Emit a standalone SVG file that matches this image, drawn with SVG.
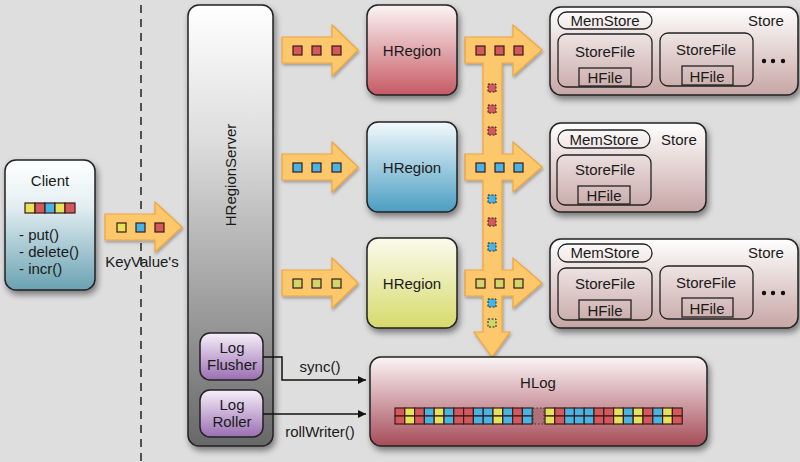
<svg xmlns="http://www.w3.org/2000/svg" width="800" height="462" viewBox="0 0 800 462">
<defs>
<style>
text{font-family:"Liberation Sans",Arial,sans-serif;font-size:15px;fill:#1a1a1a}
.c{text-anchor:middle}
.box{stroke:#222;stroke-width:1.5}
.arr{fill:#fdc86c;stroke:#f0a43c;stroke-width:1.2}
.sq{stroke:#3a1a1a;stroke-width:1.2}
.dsq{stroke:#222;stroke-width:1;stroke-dasharray:2,1.5}
.r{fill:#d4585c}.b{fill:#47b4e6}.y{fill:#e6e25a}.g{fill:#d2d66a}
.in{fill:none;stroke:#222;stroke-width:1.3}
.conn{fill:none;stroke:#111;stroke-width:1.5}
</style>
<filter id="sh" x="-20%" y="-20%" width="140%" height="140%"><feDropShadow dx="2" dy="4" stdDeviation="3" flood-color="#000" flood-opacity="0.45"/></filter>
<filter id="sh2" x="-20%" y="-20%" width="140%" height="140%"><feDropShadow dx="1" dy="2" stdDeviation="1.5" flood-color="#000" flood-opacity="0.3"/></filter>
<linearGradient id="gClient" x1="0" y1="0" x2="0" y2="1"><stop offset="0" stop-color="#ffffff"/><stop offset="0.35" stop-color="#e4eff2"/><stop offset="1" stop-color="#6aa2b2"/></linearGradient>
<linearGradient id="gServer" x1="0" y1="0" x2="0" y2="1"><stop offset="0" stop-color="#ffffff"/><stop offset="0.3" stop-color="#dedede"/><stop offset="1" stop-color="#686868"/></linearGradient>
<linearGradient id="gRed" x1="0" y1="0" x2="0" y2="1"><stop offset="0" stop-color="#fcf4f4"/><stop offset="1" stop-color="#c65a64"/></linearGradient>
<linearGradient id="gBlue" x1="0" y1="0" x2="0" y2="1"><stop offset="0" stop-color="#f2f9fc"/><stop offset="1" stop-color="#4b9ec2"/></linearGradient>
<linearGradient id="gYel" x1="0" y1="0" x2="0" y2="1"><stop offset="0" stop-color="#fbfbee"/><stop offset="1" stop-color="#d6da6a"/></linearGradient>
<linearGradient id="gStore" x1="0" y1="0" x2="0" y2="1"><stop offset="0" stop-color="#ffffff"/><stop offset="1" stop-color="#c6a6a4"/></linearGradient>
<linearGradient id="gSF" x1="0" y1="0" x2="0" y2="1"><stop offset="0" stop-color="#fbf7f8"/><stop offset="1" stop-color="#c8a6b0"/></linearGradient>
<linearGradient id="gLog" x1="0" y1="0" x2="0" y2="1"><stop offset="0" stop-color="#fbf5f6"/><stop offset="1" stop-color="#a64c58"/></linearGradient>
<linearGradient id="gPur" x1="0" y1="0" x2="0" y2="1"><stop offset="0" stop-color="#f6f0fa"/><stop offset="1" stop-color="#9a6eb2"/></linearGradient>
<marker id="ah" viewBox="0 0 10 10" refX="10" refY="5" markerWidth="10" markerHeight="8" markerUnits="userSpaceOnUse" orient="auto"><path d="M0,0 L10,5 L0,10 Z" fill="#111"/></marker>
</defs>
<rect x="0" y="0" width="800" height="462" fill="#dedede"/>
<line x1="141" y1="5" x2="141" y2="462" stroke="#222" stroke-width="1.5" stroke-dasharray="8,6"/>

<g id="client">
<rect class="box" x="5" y="160" width="90" height="130" rx="11" fill="url(#gClient)" filter="url(#sh)"/>
<text class="c" x="50" y="186">Client</text>
<rect class="sq y" x="25" y="203" width="10" height="10"/>
<rect class="sq r" x="35" y="203" width="10" height="10"/>
<rect class="sq b" x="45" y="203" width="10" height="10"/>
<rect class="sq y" x="55" y="203" width="10" height="10"/>
<rect class="sq r" x="65" y="203" width="10" height="10"/>
<text x="19" y="240">- put()</text>
<text x="19" y="257">- delete()</text>
<text x="19" y="274">- incr()</text>
</g>

<g id="keyvalues">
<polygon class="arr" points="105,214 155,214 155,202 182,227 155,252 155,240 105,240" filter="url(#sh2)"/>
<rect class="sq y" x="117" y="223" width="9" height="9"/>
<rect class="sq b" x="136" y="223" width="9" height="9"/>
<rect class="sq r" x="155" y="223" width="9" height="9"/>
<text class="c" x="142" y="267">KeyValue's</text>
</g>

<g id="hregionserver">
<rect class="box" x="188" y="5" width="85" height="441" rx="11" fill="url(#gServer)" filter="url(#sh)"/>
<text class="c" transform="translate(236,175) rotate(-90)">HRegionServer</text>
</g>

<g id="logflusher">
<rect class="box" x="200" y="333" width="63" height="47" rx="10" fill="url(#gPur)"/>
<text class="c" x="232" y="353">Log</text>
<text class="c" x="232" y="370">Flusher</text>
</g>
<g id="logroller">
<rect class="box" x="200" y="390" width="63" height="47" rx="10" fill="url(#gPur)"/>
<text class="c" x="232" y="410">Log</text>
<text class="c" x="232" y="427">Roller</text>
</g>

<g id="connectors">
<g filter="url(#sh2)">
<polygon class="arr" points="282,37 332,37 332,25 358,50 332,76 332,63 282,63"/>
<polygon class="arr" points="282,154 332,154 332,142 358,167 332,192 332,180 282,180"/>
<polygon class="arr" points="282,270 332,270 332,258 358,283 332,308 332,296 282,296"/>
<path class="arr" d="M465,37 H513 V25 L542,50 L513,76 V63 H502 V154 H513 V142 L542,167 L513,192 V180 H502 V270 H513 V258 L542,283 L513,308 V296 H502 V332 H510 L492,357 L474,332 H483 V296 H465 V270 H483 V180 H465 V154 H483 V63 H465 Z"/>
</g>
<rect class="sq r" x="293" y="46" width="9" height="9"/>
<rect class="sq r" x="312" y="46" width="9" height="9"/>
<rect class="sq r" x="332" y="46" width="9" height="9"/>
<rect class="sq b" x="293" y="163" width="9" height="9"/>
<rect class="sq b" x="312" y="163" width="9" height="9"/>
<rect class="sq b" x="332" y="163" width="9" height="9"/>
<rect class="sq g" x="293" y="279" width="9" height="9"/>
<rect class="sq g" x="312" y="279" width="9" height="9"/>
<rect class="sq g" x="332" y="279" width="9" height="9"/>
<rect class="sq r" x="476" y="46" width="9" height="9"/>
<rect class="sq r" x="495" y="46" width="9" height="9"/>
<rect class="sq r" x="514" y="46" width="9" height="9"/>
<rect class="sq b" x="476" y="163" width="9" height="9"/>
<rect class="sq b" x="495" y="163" width="9" height="9"/>
<rect class="sq b" x="514" y="163" width="9" height="9"/>
<rect class="sq g" x="476" y="279" width="9" height="9"/>
<rect class="sq g" x="495" y="279" width="9" height="9"/>
<rect class="sq g" x="514" y="279" width="9" height="9"/>
<rect class="dsq r" x="488" y="84" width="8" height="8"/>
<rect class="dsq r" x="488" y="105" width="8" height="8"/>
<rect class="dsq r" x="488" y="127" width="8" height="8"/>
<rect class="dsq b" x="488" y="195" width="8" height="8"/>
<rect class="dsq r" x="488" y="218" width="8" height="8"/>
<rect class="dsq b" x="488" y="243" width="8" height="8"/>
<rect class="dsq b" x="488" y="299" width="8" height="8"/>
<rect class="dsq g" x="488" y="319" width="8" height="8"/>
<path class="conn" d="M263,357 H282 V380 H366" marker-end="url(#ah)"/>
<path class="conn" d="M263,414 H366" marker-end="url(#ah)"/>
<text class="c" x="320" y="372">sync()</text>
<text class="c" x="320" y="437">rollWriter()</text>
</g>

<g id="hregion1">
<rect class="box" x="367" y="5" width="90" height="90" rx="11" fill="url(#gRed)" filter="url(#sh)"/>
<text class="c" x="412" y="56">HRegion</text>
</g>
<g id="hregion2">
<rect class="box" x="367" y="122" width="90" height="90" rx="11" fill="url(#gBlue)" filter="url(#sh)"/>
<text class="c" x="412" y="173">HRegion</text>
</g>
<g id="hregion3">
<rect class="box" x="367" y="238" width="90" height="90" rx="11" fill="url(#gYel)" filter="url(#sh)"/>
<text class="c" x="412" y="289">HRegion</text>
</g>

<g id="store1">
<rect class="box" x="550" y="7" width="248" height="88" rx="11" fill="url(#gStore)" filter="url(#sh)"/>
<rect class="in" x="558" y="12" width="94" height="17" rx="8.5"/>
<text class="c" x="605" y="26">MemStore</text>
<text class="c" x="766" y="26">Store</text>
<rect class="in" x="558" y="34" width="94" height="53" rx="8" fill="url(#gSF)"/>
<text class="c" x="605" y="57">StoreFile</text>
<rect class="in" x="579" y="68" width="52" height="18"/>
<text class="c" x="605" y="83">HFile</text>
<rect class="in" x="660" y="33" width="93" height="53" rx="8" fill="url(#gSF)"/>
<text class="c" x="706" y="55">StoreFile</text>
<rect class="in" x="682" y="66" width="51" height="19"/>
<text class="c" x="707" y="82">HFile</text>
<circle cx="764" cy="61" r="2.2" fill="#111"/><circle cx="773" cy="61" r="2.2" fill="#111"/><circle cx="783" cy="61" r="2.2" fill="#111"/>
</g>

<g id="store2">
<rect class="box" x="550" y="123" width="156" height="89" rx="11" fill="url(#gStore)" filter="url(#sh)"/>
<rect class="in" x="558" y="130" width="92" height="18" rx="9"/>
<text class="c" x="604" y="145">MemStore</text>
<text class="c" x="679" y="145">Store</text>
<rect class="in" x="557" y="155" width="94" height="50" rx="8" fill="url(#gSF)"/>
<text class="c" x="605" y="175">StoreFile</text>
<rect class="in" x="578" y="186" width="52" height="18"/>
<text class="c" x="604" y="201">HFile</text>
</g>

<g id="store3">
<rect class="box" x="550" y="239" width="248" height="89" rx="11" fill="url(#gStore)" filter="url(#sh)"/>
<rect class="in" x="558" y="244" width="94" height="18" rx="9"/>
<text class="c" x="605" y="258">MemStore</text>
<text class="c" x="766" y="258">Store</text>
<rect class="in" x="558" y="268" width="94" height="52" rx="8" fill="url(#gSF)"/>
<text class="c" x="605" y="289">StoreFile</text>
<rect class="in" x="579" y="300" width="52" height="19"/>
<text class="c" x="605" y="316">HFile</text>
<rect class="in" x="660" y="266" width="93" height="53" rx="8" fill="url(#gSF)"/>
<text class="c" x="706" y="288">StoreFile</text>
<rect class="in" x="682" y="298" width="51" height="19"/>
<text class="c" x="707" y="314">HFile</text>
<circle cx="764" cy="293" r="2.2" fill="#111"/><circle cx="773" cy="293" r="2.2" fill="#111"/><circle cx="783" cy="293" r="2.2" fill="#111"/>
</g>

<g id="hlog">
<rect class="box" x="370" y="357" width="337" height="89" rx="11" fill="url(#gLog)" filter="url(#sh)"/>
<text class="c" x="538" y="388">HLog</text>
<g class="sq">
<rect class="r" x="395" y="408" width="9.8" height="8"/><rect class="r" x="395" y="416" width="9.8" height="8"/>
<rect class="y" x="404.8" y="408" width="9.8" height="8"/><rect class="y" x="404.8" y="416" width="9.8" height="8"/>
<rect class="r" x="414.6" y="408" width="9.8" height="8"/><rect class="r" x="414.6" y="416" width="9.8" height="8"/>
<rect class="b" x="424.4" y="408" width="9.8" height="8"/><rect class="b" x="424.4" y="416" width="9.8" height="8"/>
<rect class="y" x="434.2" y="408" width="9.8" height="8"/><rect class="y" x="434.2" y="416" width="9.8" height="8"/>
<rect class="b" x="444" y="408" width="9.8" height="8"/><rect class="b" x="444" y="416" width="9.8" height="8"/>
<rect class="r" x="453.8" y="408" width="9.8" height="8"/><rect class="r" x="453.8" y="416" width="9.8" height="8"/>
<rect class="r" x="463.6" y="408" width="9.8" height="8"/><rect class="r" x="463.6" y="416" width="9.8" height="8"/>
<rect class="b" x="473.4" y="408" width="9.8" height="8"/><rect class="b" x="473.4" y="416" width="9.8" height="8"/>
<rect class="b" x="483.2" y="408" width="9.8" height="8"/><rect class="b" x="483.2" y="416" width="9.8" height="8"/>
<rect class="y" x="493" y="408" width="9.8" height="8"/><rect class="y" x="493" y="416" width="9.8" height="8"/>
<rect class="b" x="502.8" y="408" width="9.8" height="8"/><rect class="b" x="502.8" y="416" width="9.8" height="8"/>
<rect class="r" x="512.6" y="408" width="9.8" height="8"/><rect class="r" x="512.6" y="416" width="9.8" height="8"/>
<rect class="b" x="522.4" y="408" width="9.8" height="8"/><rect class="b" x="522.4" y="416" width="9.8" height="8"/>
<rect class="y" x="545" y="408" width="9.8" height="8"/><rect class="y" x="545" y="416" width="9.8" height="8"/>
<rect class="r" x="554.8" y="408" width="9.8" height="8"/><rect class="r" x="554.8" y="416" width="9.8" height="8"/>
<rect class="b" x="564.6" y="408" width="9.8" height="8"/><rect class="b" x="564.6" y="416" width="9.8" height="8"/>
<rect class="b" x="574.4" y="408" width="9.8" height="8"/><rect class="b" x="574.4" y="416" width="9.8" height="8"/>
<rect class="b" x="584.2" y="408" width="9.8" height="8"/><rect class="b" x="584.2" y="416" width="9.8" height="8"/>
<rect class="r" x="594" y="408" width="9.8" height="8"/><rect class="r" x="594" y="416" width="9.8" height="8"/>
<rect class="r" x="603.8" y="408" width="9.8" height="8"/><rect class="r" x="603.8" y="416" width="9.8" height="8"/>
<rect class="y" x="613.6" y="408" width="9.8" height="8"/><rect class="y" x="613.6" y="416" width="9.8" height="8"/>
<rect class="b" x="623.4" y="408" width="9.8" height="8"/><rect class="b" x="623.4" y="416" width="9.8" height="8"/>
<rect class="y" x="633.2" y="408" width="9.8" height="8"/><rect class="y" x="633.2" y="416" width="9.8" height="8"/>
<rect class="r" x="643" y="408" width="9.8" height="8"/><rect class="r" x="643" y="416" width="9.8" height="8"/>
<rect class="b" x="652.8" y="408" width="9.8" height="8"/><rect class="b" x="652.8" y="416" width="9.8" height="8"/>
<rect class="y" x="662.6" y="408" width="9.8" height="8"/><rect class="y" x="662.6" y="416" width="9.8" height="8"/>
<rect class="r" x="672.4" y="408" width="9.8" height="8"/><rect class="r" x="672.4" y="416" width="9.8" height="8"/>
</g>
<rect x="533" y="408" width="11" height="16" fill="#b07078" stroke="#333" stroke-width="1" stroke-dasharray="1.5,2"/>
</g>
</svg>
